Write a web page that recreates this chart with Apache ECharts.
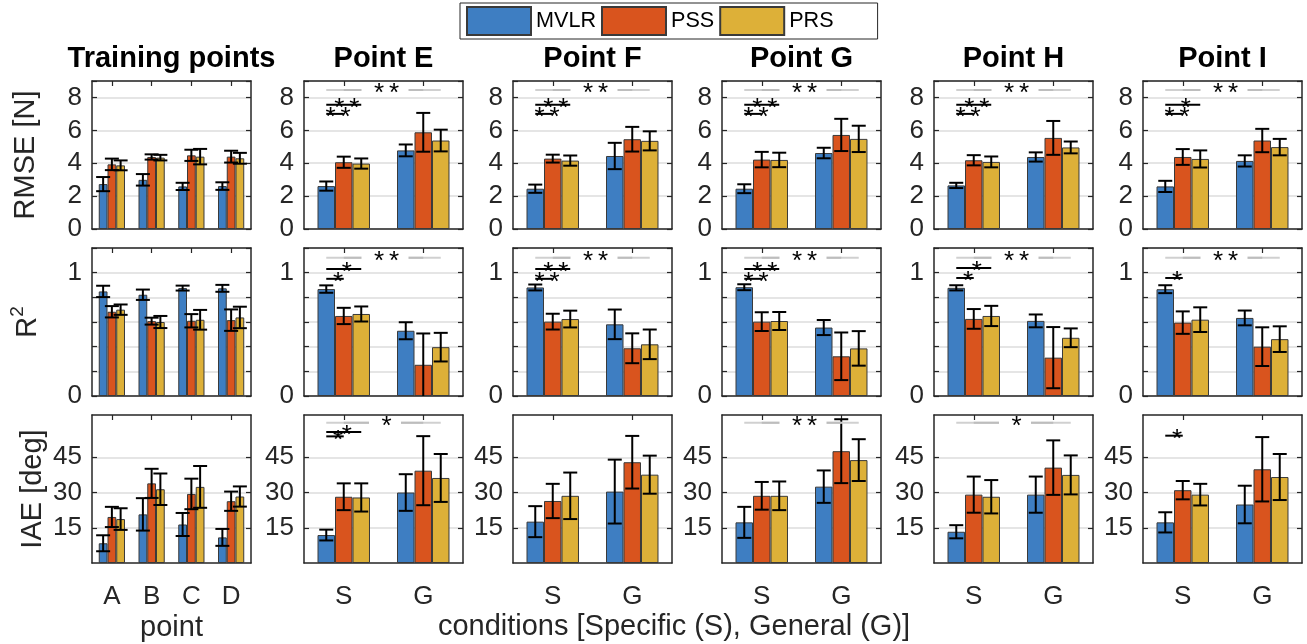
<!DOCTYPE html>
<html><head><meta charset="utf-8">
<script src="https://cdn.jsdelivr.net/npm/echarts@6/dist/echarts.min.js"></script>
<style>html,body{margin:0;padding:0;background:#fff}#c{width:1307px;height:644px}</style>
</head><body><div id="c"></div><script>
// ---------- data ----------
const methods = ['MVLR', 'PSS', 'PRS'];
const panelTitles = ['Training points', 'Point E', 'Point F', 'Point G', 'Point H', 'Point I'];
const trainCats = ['A', 'B', 'C', 'D'];
const testCats = ['S', 'G'];
const metricNames = ['RMSE [N]', '{r|R}{s|2}', 'IAE [deg]'];

// RMSE [N]  (panels: training [A,B,C,D], E..I [S,G])
const rmseMVLR = [[2.73, 2.99, 2.59, 2.61], [2.61, 4.78], [2.45, 4.44], [2.45, 4.62], [2.65, 4.38], [2.59, 4.14]];
const rmseMVLRErr = [[0.43, 0.35, 0.22, 0.23], [0.28, 0.36], [0.25, 0.80], [0.27, 0.32], [0.16, 0.28], [0.34, 0.34]];
const rmsePSS = [[3.93, 4.38, 4.48, 4.40], [4.06, 5.88], [4.28, 5.46], [4.22, 5.72], [4.18, 5.54], [4.38, 5.38]];
const rmsePSSErr = [[0.35, 0.16, 0.34, 0.36], [0.34, 1.18], [0.24, 0.75], [0.47, 0.98], [0.31, 1.03], [0.48, 0.71]];
const rmsePRS = [[3.87, 4.34, 4.40, 4.30], [3.98, 5.38], [4.16, 5.36], [4.20, 5.48], [4.08, 4.96], [4.26, 4.98]];
const rmsePRSErr = [[0.30, 0.17, 0.47, 0.33], [0.31, 0.66], [0.31, 0.58], [0.44, 0.80], [0.33, 0.36], [0.52, 0.50]];

// R^2
const r2MVLR = [[0.848, 0.821, 0.875, 0.873], [0.867, 0.529], [0.880, 0.581], [0.882, 0.555], [0.877, 0.609], [0.866, 0.633]];
const r2MVLRErr = [[0.046, 0.042, 0.020, 0.028], [0.030, 0.069], [0.024, 0.120], [0.024, 0.061], [0.021, 0.052], [0.032, 0.060]];
const r2PSS = [[0.683, 0.607, 0.610, 0.615], [0.649, 0.253], [0.603, 0.387], [0.603, 0.322], [0.625, 0.311], [0.595, 0.400]];
const r2PSSErr = [[0.046, 0.028, 0.054, 0.087], [0.066, 0.254], [0.064, 0.121], [0.076, 0.193], [0.080, 0.248], [0.091, 0.157]];
const r2PRS = [[0.700, 0.600, 0.618, 0.637], [0.665, 0.396], [0.624, 0.419], [0.608, 0.386], [0.649, 0.472], [0.619, 0.461]];
const r2PRSErr = [[0.042, 0.049, 0.080, 0.087], [0.061, 0.116], [0.068, 0.120], [0.073, 0.140], [0.082, 0.076], [0.100, 0.104]];

// IAE [deg]
const iaeMVLR = [[8.4, 20.7, 16.4, 10.9], [11.9, 30.0], [17.6, 30.4], [17.3, 32.5], [13.3, 29.1], [17.3, 24.9]];
const iaeMVLRErr = [[3.4, 6.9, 4.9, 3.6], [2.3, 7.8], [6.6, 13.6], [6.6, 6.9], [2.8, 7.7], [4.3, 8.0]];
const iaePSS = [[19.6, 33.9, 29.4, 26.3], [28.2, 39.3], [26.4, 42.9], [28.6, 47.6], [29.1, 40.6], [31.0, 39.9]];
const iaePSSErr = [[4.3, 6.2, 6.5, 4.1], [5.7, 14.7], [7.3, 11.2], [5.9, 13.6], [7.7, 11.6], [3.9, 13.7]];
const iaePRS = [[18.7, 31.4, 32.4, 28.3], [27.9, 36.2], [28.6, 37.6], [28.6, 43.8], [28.2, 37.5], [29.1, 36.6]];
const iaePRSErr = [[4.6, 6.7, 8.9, 4.3], [6.0, 10.2], [9.9, 8.1], [6.1, 8.9], [7.1, 8.3], [4.6, 9.8]];

// significance marks: [panel, pair, y, number of stars]
// pair: 'ps' = MVLR vs PSS (S), 'pr' = MVLR vs PRS (S), 'sg' = S vs G
const sigRMSE = [
  [1, 'ps', 7.0, 2], [1, 'pr', 7.55, 2], [1, 'sg', 8.45, 2],
  [2, 'ps', 7.0, 2], [2, 'pr', 7.55, 2], [2, 'sg', 8.45, 2],
  [3, 'ps', 7.0, 2], [3, 'pr', 7.55, 2], [3, 'sg', 8.45, 2],
  [4, 'ps', 7.0, 2], [4, 'pr', 7.55, 2], [4, 'sg', 8.45, 2],
  [5, 'ps', 7.0, 2], [5, 'pr', 7.55, 1], [5, 'sg', 8.45, 2]
];
const sigR2 = [
  [1, 'ps', 0.95, 1], [1, 'pr', 1.03, 1], [1, 'sg', 1.12, 2],
  [2, 'ps', 0.95, 2], [2, 'pr', 1.03, 2], [2, 'sg', 1.12, 2],
  [3, 'ps', 0.95, 2], [3, 'pr', 1.03, 2], [3, 'sg', 1.12, 2],
  [4, 'ps', 0.957, 1], [4, 'pr', 1.037, 1], [4, 'sg', 1.12, 2],
  [5, 'ps', 0.957, 1], [5, 'sg', 1.12, 2]
];
const sigIAE = [
  [1, 'ps', 53.9, 1], [1, 'pr', 55.8, 1], [1, 'sg', 59.7, 1],
  [3, 'sg', 59.7, 2],
  [4, 'sg', 59.7, 1],
  [5, 'ps', 54.2, 1]
];

// ---------- styling / layout ----------
const FONT = '"Liberation Sans", Arial, Helvetica, sans-serif';
const TXT = '#262626';
const colors = ['#3E7EC2', '#D9541E', '#DDB038'];
const colLeft = [92, 304, 513, 722, 934, 1143];
const colWidth = 159;
const rowTop = [81, 248, 415];
const rowHeight = 148;
const GAP = 0.34;
const TICK_FS = 26, NAME_FS = 29, TITLE_FS = 29;

const means = [[rmseMVLR, rmsePSS, rmsePRS], [r2MVLR, r2PSS, r2PRS], [iaeMVLR, iaePSS, iaePRS]];
const errs = [[rmseMVLRErr, rmsePSSErr, rmsePRSErr], [r2MVLRErr, r2PSSErr, r2PRSErr], [iaeMVLRErr, iaePSSErr, iaePRSErr]];
const sigs = [sigRMSE, sigR2, sigIAE];

const yCfg = [
  { min: 0, max: 9, interval: 2, labels: [0, 2, 4, 6, 8] },
  { min: 0, max: 1.2, interval: 0.2, labels: [0, 1] },
  { min: 0, max: 63, interval: 15, labels: [15, 30, 45], custom: [15, 30, 45] }
];
const yNameGap = [52, 50, 45];

function errRender(params, api) {
  const ci = api.value(0), m = api.value(1), mean = api.value(2), e = api.value(3);
  const band = api.size([1, 0])[0];
  const bw = band * (1 - GAP) / 3;
  const x = api.coord([ci, mean])[0] + (m - 1) * bw;
  const lo = mean - e, hi = mean + e;
  const yHi = api.coord([ci, hi])[1];
  const yLo = api.coord([ci, Math.max(lo, 0)])[1];
  const st = { stroke: '#000', lineWidth: 2 };
  const ch = [
    { type: 'line', shape: { x1: x, y1: yHi, x2: x, y2: yLo }, style: st },
    { type: 'line', shape: { x1: x - 7, y1: yHi, x2: x + 7, y2: yHi }, style: st }
  ];
  if (lo >= 0) ch.push({ type: 'line', shape: { x1: x - 7, y1: yLo, x2: x + 7, y2: yLo }, style: st });
  return { type: 'group', children: ch };
}

function sigRender(list) {
  return function (params, api) {
    const it = list[params.dataIndex];
    const band = api.size([1, 0])[0];
    const bw = band * (1 - GAP) / 3;
    const c0 = api.coord([0, it[2]]);
    const c1 = api.coord([1, it[2]]);
    const y = c0[1];
    let x1, x2;
    if (it[1] === 'ps') { x1 = c0[0] - bw; x2 = c0[0]; }
    else if (it[1] === 'pr') { x1 = c0[0] - bw; x2 = c0[0] + bw; }
    else { x1 = c0[0] - bw; x2 = c1[0] + bw; }
    const ch = [];
    const gray = it[1] === 'sg';
    const n = it[3];
    const cx = (x1 + x2) / 2 + 3;
    if (gray) {
      ch.push({ type: 'line', shape: { x1: x1, y1: y, x2: x2, y2: y }, style: { stroke: '#d0d0d0', lineWidth: 2 } });
      ch.push({ type: 'line', shape: { x1: c0[0], y1: y, x2: c1[0], y2: y }, style: { stroke: '#bdbdbd', lineWidth: 2 } });
      const hw = n * 7.5 + 7;
      ch.push({ type: 'rect', shape: { x: cx - hw - 3, y: y - 3, width: 2 * hw + 3, height: 6 }, style: { fill: '#fff' } });
    } else {
      ch.push({ type: 'line', shape: { x1: x1, y1: y, x2: x2, y2: y }, style: { stroke: '#000', lineWidth: 2 } });
    }
    for (let k = 0; k < n; k++) {
      const ax = cx + (k - (n - 1) / 2) * 15;
      ch.push({
        type: 'text', x: ax, y: y + 4,
        style: {
          text: '*', fill: '#000', fontSize: 26, fontFamily: FONT,
          align: 'center', verticalAlign: 'middle'
        }
      });
    }
    return { type: 'group', children: ch };
  };
}

const grids = [], xB = [], xT = [], yL = [], yR = [], series = [];
for (let r = 0; r < 3; r++) {
  for (let c = 0; c < 6; c++) {
    const g = r * 6 + c;
    const cats = c === 0 ? trainCats : testCats;
    grids.push({ left: colLeft[c], top: rowTop[r], width: colWidth, height: rowHeight });
    const axLine = { show: true, onZero: false, lineStyle: { color: TXT, width: 1.5 } };
    xB.push({
      type: 'category', gridIndex: g, data: cats, position: 'bottom',
      axisLine: axLine,
      axisTick: { show: true, inside: true, alignWithLabel: true, length: 5, lineStyle: { color: TXT, width: 1.2 } },
      axisLabel: { show: r === 2, fontSize: TICK_FS, fontFamily: FONT, color: TXT, margin: 21 },
      splitLine: { show: false },
      name: (r === 2 && c === 0) ? 'point' : '',
      nameLocation: 'middle', nameGap: 50,
      nameTextStyle: { fontSize: NAME_FS, fontFamily: FONT, color: TXT }
    });
    xT.push({
      type: 'category', gridIndex: g, data: cats, position: 'top',
      axisLine: axLine,
      axisTick: { show: true, inside: true, alignWithLabel: true, length: 5, lineStyle: { color: TXT, width: 1.2 } },
      axisLabel: { show: false }, splitLine: { show: false }
    });
    const yc = yCfg[r];
    const fmt = v => yc.labels.some(l => Math.abs(l - v) < 1e-6) ? String(Math.round(v * 100) / 100) : '';
    const yl = {
      type: 'value', gridIndex: g, min: yc.min, max: yc.max, interval: yc.interval, position: 'left',
      axisLine: axLine,
      axisTick: { show: true, inside: true, length: 5, lineStyle: { color: TXT, width: 1.2 } },
      axisLabel: { show: true, fontSize: TICK_FS, fontFamily: FONT, color: TXT, margin: 10, formatter: fmt, showMaxLabel: true },
      splitLine: { show: true, lineStyle: { color: '#dcdcdc', width: 1.5 } },
      name: c === 0 ? metricNames[r] : '',
      nameLocation: 'middle', nameRotate: 90, nameGap: yNameGap[r],
      nameTextStyle: {
        fontSize: NAME_FS, fontFamily: FONT, color: TXT,
        rich: {
          r: { fontSize: NAME_FS, fontFamily: FONT, color: TXT, lineHeight: 34, verticalAlign: 'bottom' },
          s: { fontSize: 19, fontFamily: FONT, color: TXT, lineHeight: 34, verticalAlign: 'top' }
        }
      }
    };
    const yrt = {
      type: 'value', gridIndex: g, min: yc.min, max: yc.max, interval: yc.interval, position: 'right',
      axisLine: axLine,
      axisTick: { show: true, inside: true, length: 5, lineStyle: { color: TXT, width: 1.2 } },
      axisLabel: { show: false }, splitLine: { show: false }
    };
    if (yc.custom) {
      yl.axisTick.customValues = yc.custom;
      yl.axisLabel.customValues = yc.custom;
      yrt.axisTick.customValues = yc.custom;
    }
    yL.push(yl); yR.push(yrt);

    for (let m = 0; m < 3; m++) {
      series.push({
        type: 'bar', name: methods[m], xAxisIndex: g, yAxisIndex: g,
        data: means[r][m][c].slice(),
        barGap: '0%', barCategoryGap: (GAP * 100) + '%',
        itemStyle: { color: colors[m], borderColor: '#3a3a3a', borderWidth: 1 },
        silent: true
      });
    }
    const ed = [];
    for (let ci = 0; ci < cats.length; ci++) {
      for (let m = 0; m < 3; m++) ed.push([ci, m, means[r][m][c][ci], errs[r][m][c][ci]]);
    }
    series.push({
      type: 'custom', xAxisIndex: g, yAxisIndex: g, z: 5, silent: true,
      renderItem: errRender, data: ed, encode: { x: 0, y: 2 }
    });
    const list = sigs[r].filter(s => s[0] === c);
    if (list.length) {
      series.push({
        type: 'custom', xAxisIndex: g, yAxisIndex: g, z: 6, silent: true,
        renderItem: sigRender(list), data: list.map(s => [0, s[2]]), encode: { x: 0, y: 1 }
      });
    }
  }
}

const titles = panelTitles.map((t, c) => ({
  text: t, left: colLeft[c] + colWidth / 2, top: 44, textAlign: 'center', padding: 0,
  textStyle: { fontSize: TITLE_FS, fontWeight: 'bold', fontFamily: FONT, color: '#000' }
}));

const chart = echarts.init(document.getElementById('c'), null, { renderer: 'canvas' });
chart.setOption({
  animation: false,
  backgroundColor: '#fff',
  textStyle: { fontFamily: FONT },
  title: titles,
  legend: {
    data: methods, left: 460, top: 3, itemWidth: 64, itemHeight: 28, itemGap: 5, icon: 'rect',
    padding: [3, 44, 3, 6], borderColor: TXT, borderWidth: 1, selectedMode: false,
    textStyle: { fontSize: 21.6, fontFamily: FONT, color: '#000' }
  },
  grid: grids,
  xAxis: xB.concat(xT),
  yAxis: yL.concat(yR),
  series: series,
  graphic: [{
    type: 'text', x: 674, y: 627,
    style: { text: 'conditions [Specific (S), General (G)]', fontSize: NAME_FS, fontFamily: FONT, fill: TXT, align: 'center', verticalAlign: 'middle' }
  }]
});
</script></body></html>
